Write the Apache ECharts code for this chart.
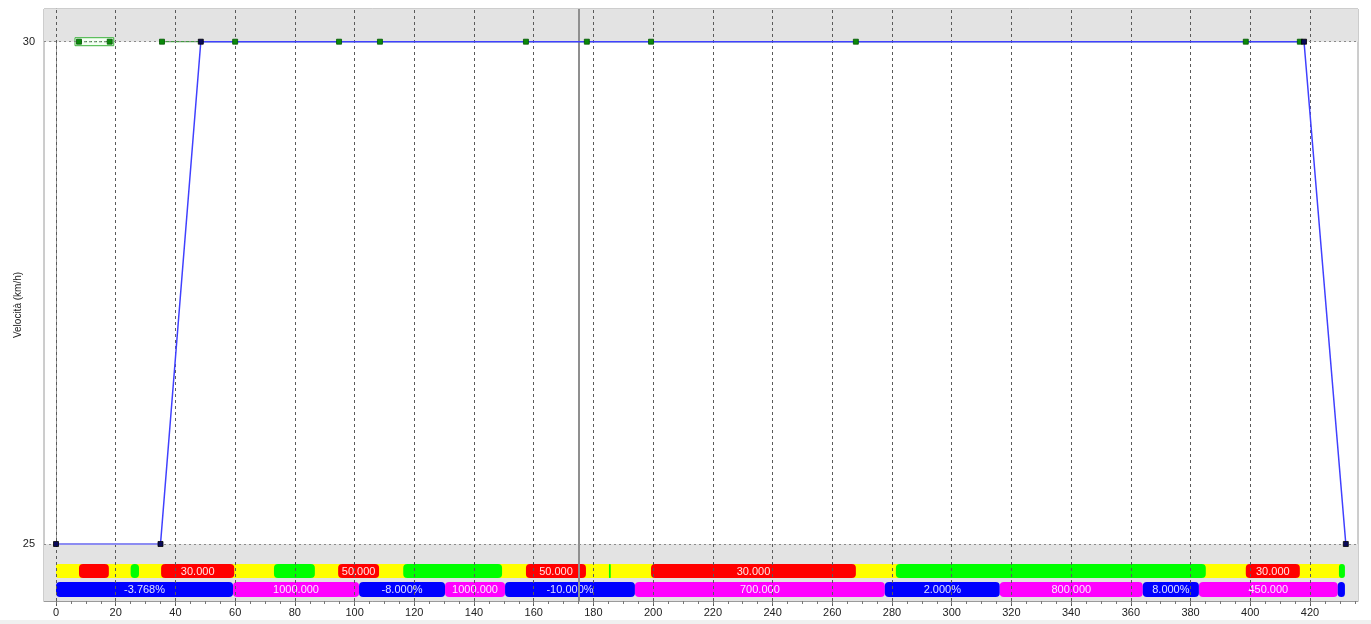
<!DOCTYPE html>
<html><head><meta charset="utf-8">
<script src="https://cdn.jsdelivr.net/npm/echarts@6/dist/echarts.min.js"></script>
<style>html,body{margin:0;padding:0;background:#fff}#c{width:1371px;height:624px}</style>
</head><body><div id="c"></div>
<script>
// ---------- DATA ----------
const xTickValues = [0,20,40,60,80,100,120,140,160,180,200,220,240,260,280,300,320,340,360,380,400,420];
const yTickValues = [25, 30];
const yAxisTitle = 'Velocità (km/h)';

// speed profile (distance, km/h)
const speedApproach = [[0,25],[35,25]];
const speedProfile = [[35,25],[48.5,30],[418,30],[432,25]];
// speed-limit change points on the 30 km/h line
const limitPoints = [7.7,18,35.5,60,94.8,108.5,157.4,177.8,199.3,267.9,398.5,416.6];
const limitLineFrom = 35.5;
const selectedSegment = [7.7, 18];
const limitValue = 30;
const cursorPosition = 175;

// band 1: speed limit segments [start, end, kind, label]
const limitBands = [
  [0,7.7,'Y',''],[7.7,17.7,'R',''],[17.7,25,'Y',''],[25,27.8,'G',''],[27.8,35.2,'Y',''],
  [35.2,59.7,'R','30.000'],[59.7,73,'Y',''],[73,86.7,'G',''],[86.7,94.5,'Y',''],
  [94.5,108.2,'R','50.000'],[108.2,116.3,'Y',''],[116.3,149.4,'G',''],[149.4,157.4,'Y',''],
  [157.4,177.5,'R','50.000'],[177.5,185.2,'Y',''],[185.2,185.8,'G',''],[185.8,199.3,'Y',''],
  [199.3,267.9,'R','30.000'],[267.9,281.3,'Y',''],[281.3,385.1,'G',''],[385.1,398.5,'Y',''],
  [398.5,416.6,'R','30.000'],[416.6,429.7,'Y',''],[429.7,431.7,'G','']
];
// band 2: gradient / radius segments [start, end, kind, label]
const profileBands = [
  [0,59.3,'B','-3.768%'],[59.3,101.5,'M','1000.000'],[101.5,130.3,'B','-8.000%'],
  [130.3,150.4,'M','1000.000'],[150.4,193.9,'B','-10.000%'],[193.9,277.6,'M','700.000'],
  [277.6,316.1,'B','2.000%'],[316.1,364,'M','800.000'],[364,382.8,'B','8.000%'],
  [382.8,429.3,'M','450.000'],[429.3,431.7,'B','']
];

// ---------- LAYOUT / STYLE ----------
const FONT = 'Liberation Sans';
const Y_TOP = 30.3255, Y_BOT = 24.4326, X_MIN = -4.02, X_MAX = 436.08;
const ROW1_Y = 24.731, ROW2_Y = 24.547, ROW1_H = 14, ROW2_H = 15;
const COLORS = {Y:'#ffff00', R:'#ff0000', G:'#00ff00', B:'#0000ff', M:'#ff00ff'};
const TEXT_COLORS = {R:'#ffe4e4', B:'#e0e0ff', M:'#ffe8ff'};

const minorTicks = [];
for (let v = 0; v <= 435; v += 5) minorTicks.push(v);

function bandRenderer(rows, rowY, h) {
  return function (params, api) {
    const seg = rows[params.dataIndex];
    const p0 = api.coord([seg[0], rowY]);
    const p1 = api.coord([seg[1], rowY]);
    let x0 = p0[0], x1 = p1[0];
    let r = 4, z2 = 1;
    if (seg[2] === 'Y') {
      z2 = 0; r = 2;
      if (params.dataIndex > 0) x0 -= 4;
      if (params.dataIndex < rows.length - 1) x1 += 4;
    }
    const children = [{
      type: 'rect', z2: z2,
      shape: {x: x0, y: p0[1] - h / 2, width: Math.max(x1 - x0, 1), height: h, r: Math.min(r, (x1 - x0) / 2)},
      style: {fill: COLORS[seg[2]]}
    }];
    if (seg[3]) {
      children.push({
        type: 'text', z2: 5,
        style: {text: seg[3], x: (p0[0] + p1[0]) / 2, y: p0[1] + 0.5, align: 'center', verticalAlign: 'middle',
          fill: TEXT_COLORS[seg[2]] || '#fff', font: '11px "' + FONT + '"'}
      });
    }
    return {type: 'group', children: children};
  };
}

const chart = echarts.init(document.getElementById('c'));
const option = {
  animation: false,
  backgroundColor: '#ffffff',
  grid: {left: 44, right: 13, top: 9, bottom: 23, show: true, borderColor: '#9a9a9a', borderWidth: 1,
    backgroundColor: 'transparent', outerBoundsMode: 'none', containLabel: false},
  xAxis: [{
    type: 'value', min: X_MIN, max: X_MAX,
    axisLine: {show: true, lineStyle: {color: '#9a9a9a'}},
    axisTick: {show: true, customValues: xTickValues, length: 5, lineStyle: {color: '#555'}},
    axisLabel: {customValues: xTickValues, color: '#222', fontFamily: FONT, fontSize: 11, margin: 6},
    splitLine: {show: false}
  }, {
    type: 'value', min: X_MIN, max: X_MAX, position: 'bottom',
    axisLine: {show: false},
    axisTick: {show: true, customValues: minorTicks, length: 3, lineStyle: {color: '#777'}},
    axisLabel: {show: false},
    splitLine: {show: false}
  }],
  yAxis: {
    type: 'value', min: Y_BOT, max: Y_TOP,
    name: yAxisTitle, nameLocation: 'middle', nameGap: 21, nameMoveOverlap: false,
    nameTextStyle: {color: '#222', fontFamily: FONT, fontSize: 10},
    axisLine: {show: true, lineStyle: {color: '#9a9a9a'}},
    axisTick: {show: true, customValues: yTickValues, length: 6, lineStyle: {color: '#888', type: [2, 2]}},
    axisLabel: {customValues: yTickValues, color: '#222', fontFamily: FONT, fontSize: 11, margin: 9},
    splitLine: {show: false}
  },
  series: [
    { // background helpers
      type: 'line', data: [], z: 1, silent: true,
      markArea: {
        silent: true,
        itemStyle: {color: '#e3e3e3'},
        data: [[{yAxis: limitValue}, {yAxis: Y_TOP}], [{yAxis: Y_BOT}, {yAxis: 25}]]
      },
      markLine: {
        silent: true, symbol: 'none', label: {show: false},
        data: xTickValues.map(v => ({xAxis: v, lineStyle: {color: '#5a5a5a', type: [3, 3], width: 1}}))
          .concat(yTickValues.map(v => ({yAxis: v, lineStyle: {color: '#8a8a8a', type: [2, 3], width: 1}})))
      }
    },
    {
      type: 'custom', z: 3, silent: true, clip: true,
      renderItem: bandRenderer(limitBands, ROW1_Y, ROW1_H),
      encode: {x: [0, 1]},
      data: limitBands.map(s => [s[0], s[1]])
    },
    {
      type: 'custom', z: 3, silent: true, clip: true,
      renderItem: bandRenderer(profileBands, ROW2_Y, ROW2_H),
      encode: {x: [0, 1]},
      data: profileBands.map(s => [s[0], s[1]])
    },
    { // selected limit segment box
      type: 'custom', z: 4, silent: true,
      renderItem: function (params, api) {
        const p0 = api.coord([api.value(0), limitValue]);
        const p1 = api.coord([api.value(1), limitValue]);
        return {type: 'group', children: [
          {type: 'rect', shape: {x: p0[0] - 4, y: p0[1] - 4, width: p1[0] - p0[0] + 8, height: 8},
            style: {fill: '#f4fff4', stroke: '#3cb43c', lineWidth: 1}},
          {type: 'line', shape: {x1: p0[0], y1: p0[1], x2: p1[0], y2: p1[1]},
            style: {stroke: '#1a7a1a', lineWidth: 1, lineDash: [3, 2]}}
        ]};
      },
      encode: {x: [0, 1]},
      data: [selectedSegment]
    },
    { // limit line
      type: 'line', z: 4, silent: true, symbol: 'none',
      lineStyle: {color: '#1a8a1a', width: 1},
      data: limitPoints.filter(v => v >= limitLineFrom).map(v => [v, limitValue])
    },
    { // approach
      type: 'line', z: 5, silent: true, symbol: 'none',
      lineStyle: {color: '#8c8cf2', width: 2},
      data: speedApproach
    },
    { // profile
      type: 'line', z: 5, silent: true, symbol: 'none',
      lineStyle: {color: '#4040ff', width: 1.5},
      data: speedProfile
    },
    { // limit markers
      type: 'scatter', z: 6, silent: true, symbol: 'rect', symbolSize: 5,
      itemStyle: {color: '#0b8a0b', borderColor: '#005500', borderWidth: 0.8, opacity: 1},
      data: limitPoints.map(v => [v, limitValue])
    },
    { // profile markers
      type: 'scatter', z: 7, silent: true, symbol: 'rect', symbolSize: 5,
      itemStyle: {color: '#0a0a5a', borderColor: '#000000', borderWidth: 0.8, opacity: 1},
      data: speedApproach.concat(speedProfile.slice(1))
    },
    { // cursor
      type: 'line', data: [], z: 8, silent: true,
      markLine: {silent: true, symbol: 'none', label: {show: false},
        lineStyle: {color: '#8f8f8f', type: 'solid', width: 2},
        data: [{xAxis: cursorPosition}]}
    }
  ],
  graphic: [{type: 'rect', left: 0, top: 620, shape: {width: 1371, height: 4}, style: {fill: '#f0f0f0'}, silent: true}]
};
chart.setOption(option);
</script>
</body></html>
